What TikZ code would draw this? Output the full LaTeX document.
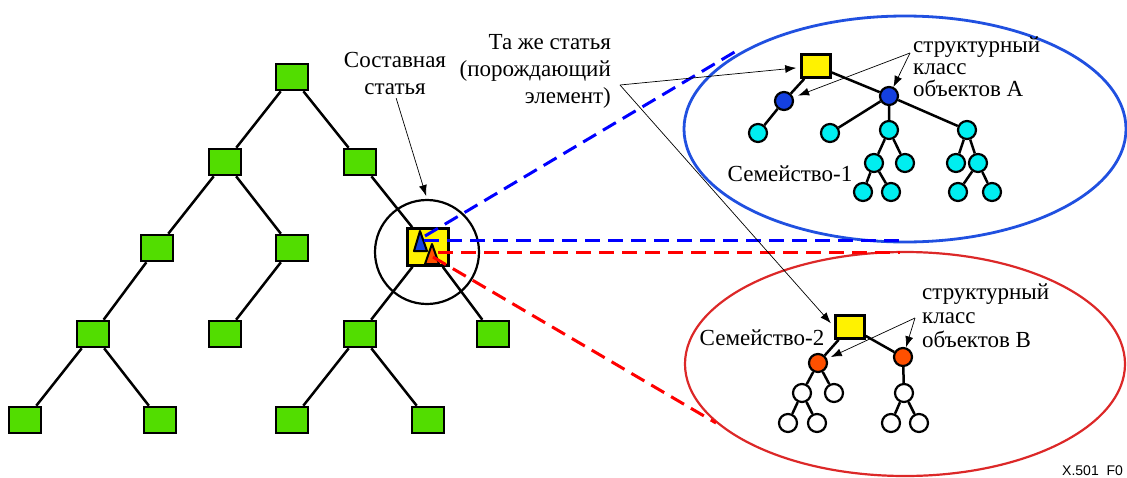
\documentclass[tikz,border=0pt]{standalone}
\usepackage{fontspec}
\setmainfont{Liberation Serif}
\newfontfamily\figsans{Liberation Sans}
\usepackage{xcolor}
\usetikzlibrary{arrows.meta, positioning}

\definecolor{leaf}{HTML}{52DD00}
\definecolor{classA}{HTML}{1440E0}
\definecolor{objA}{HTML}{00EEF0}
\definecolor{classB}{HTML}{FF5000}
\definecolor{ringA}{HTML}{2050E0}
\definecolor{ringB}{HTML}{DC2828}

\begin{document}
\begin{tikzpicture}[x=1pt, y=-1pt,
      GB/.style = {draw, line width=2.6pt, fill=leaf, minimum width=32pt,
                   minimum height=26pt, inner sep=0pt},
      YB/.style = {draw, line width=2.6pt, fill=yellow, minimum width=29pt,
                   minimum height=23pt, inner sep=0pt},
      ND/.style = {circle, draw, line width=2.2pt, minimum size=18pt, inner sep=0pt},
      link/.style = {line width=2.5pt},
      note/.style = {line width=0.7pt, -{Latex[length=11pt, width=8pt]}},
      DL/.style = {line width=3pt, dash pattern=on 15pt off 8pt},
      txt/.style = {inner sep=0pt, font=\fontsize{23}{27}\selectfont} ]

   \useasboundingbox (0,0) rectangle (1127,477);

   \draw[ringA, line width=2.8pt] (905,129) ellipse [x radius=221pt, y radius=113pt];
   \draw[ringB, line width=2.2pt] (905,364) ellipse [x radius=220pt, y radius=112pt];

   % directory tree
   \node (t0)  [GB] at (292,77)  {};
   \node (t1a) [GB] at (225,162) {};
   \node (t1b) [GB] at (360,162) {};
   \node (t2a) [GB] at (157,248) {};
   \node (t2b) [GB] at (292,248) {};
   \node (art) [YB, minimum width=41pt, minimum height=37pt] at (428,247) {};
   \node (t3a) [GB] at (93,334)  {};
   \node (t3b) [GB] at (225,334) {};
   \node (t3c) [GB] at (360,334) {};
   \node (t3d) [GB] at (493,334) {};
   \node (t4a) [GB] at (25,420)  {};
   \node (t4b) [GB] at (160,420) {};
   \node (t4c) [GB] at (292,420) {};
   \node (t4d) [GB] at (428,420) {};
   \draw[link] (t0) -- (t1a)  (t0) -- (t1b)
               (t1a) -- (t2a) (t1a) -- (t2b) (t1b) -- (art)
               (t2a) -- (t3a) (t2b) -- (t3b) (art) -- (t3c) (art) -- (t3d)
               (t3a) -- (t4a) (t3a) -- (t4b) (t3c) -- (t4c) (t3c) -- (t4d);
   \node (zoom) [circle, draw, line width=2.2pt, minimum size=104pt] at (427,252) {};

   \filldraw[line width=2pt, line join=round, fill=classA]
        (420,231) -- (427,251) -- (414,251) -- cycle;
   \filldraw[line width=2pt, line join=round, fill=classB]
        (432,244) -- (439,264) -- (425,264) -- cycle;

   \coordinate (pa) at (425,236);  \coordinate (qa) at (738,50);
   \coordinate (pb) at (424,240);  \coordinate (qb) at (900,240);
   \coordinate (pc) at (438,252);  \coordinate (qc) at (900,252);
   \coordinate (pd) at (433,257);  \coordinate (qd) at (716,423);
   \draw[DL, blue] (pa) -- (qa);
   \draw[DL, blue] (pb) -- (qb);
   \draw[DL, red]  (pc) -- (qc);
   \draw[DL, red]  (pd) -- (qd);

   % family 1
   \node (f1)  [YB] at (816,66) {};
   \node (a1)  [ND, fill=classA] at (784,101) {};
   \node (a2)  [ND, fill=classA] at (889,96)  {};
   \node (c1)  [ND, fill=objA] at (758,133) {};
   \node (c2)  [ND, fill=objA] at (830,133) {};
   \node (c3)  [ND, fill=objA] at (889,130) {};
   \node (c4)  [ND, fill=objA] at (967,130) {};
   \node (c5)  [ND, fill=objA] at (874,163) {};
   \node (c6)  [ND, fill=objA] at (905,163) {};
   \node (c7)  [ND, fill=objA] at (956,163) {};
   \node (c8)  [ND, fill=objA] at (978,163) {};
   \node (c9)  [ND, fill=objA] at (863,192) {};
   \node (c10) [ND, fill=objA] at (891,192) {};
   \node (c11) [ND, fill=objA] at (958,192) {};
   \node (c12) [ND, fill=objA] at (992,192) {};
   \draw[link] (f1) -- (a1) (f1) -- (a2) (a1) -- (c1)
               (a2) -- (c2) (a2) -- (c3) (a2) -- (c4)
               (c3) -- (c5) (c3) -- (c6) (c4) -- (c7) (c4) -- (c8)
               (c5) -- (c9) (c5) -- (c10) (c8) -- (c11) (c8) -- (c12);

   % family 2
   \node (f2)  [YB] at (850,327) {};
   \node (b1)  [ND, fill=classB] at (818,363) {};
   \node (b2)  [ND, fill=classB] at (903,357) {};
   \node (w1)  [ND, fill=white] at (802,393) {};
   \node (w2)  [ND, fill=white] at (834,393) {};
   \node (w3)  [ND, fill=white] at (904,393) {};
   \node (w4)  [ND, fill=white] at (788,423) {};
   \node (w5)  [ND, fill=white] at (817,423) {};
   \node (w6)  [ND, fill=white] at (891,423) {};
   \node (w7)  [ND, fill=white] at (919,423) {};
   \draw[link] (f2) -- (b1) (f2) -- (b2) (b1) -- (w1) (b1) -- (w2) (b2) -- (w3)
               (w1) -- (w4) (w1) -- (w5) (w3) -- (w6) (w3) -- (w7);

   % labels
   \node (cmp)  [txt, align=center] at (395,73) {Составная\\статья};
   \node (same) [txt, align=right, anchor=east] at (611,71)
        {Та же статья\\(порождающий\\элемент)};
   \node (clsA) [txt, align=left, anchor=north west,
                 font=\fontsize{23}{22}\selectfont] at (913,37)
        {структурный\\класс\\объектов A};
   \node (clsB) [txt, align=left, anchor=north west,
                 font=\fontsize{23}{24}\selectfont] at (922,284)
        {структурный\\класс\\объектов B};
   \node (fam1) [txt, anchor=base] at (790,181) {Семейство-1};
   \node (fam2) [txt, anchor=base] at (762,345) {Семейство-2};
   \node (tag)  [inner sep=0pt, anchor=base west, font=\figsans\fontsize{14}{14}\selectfont]
        at (1062,475) {X.501\ \ F0};

   \coordinate (fork) at (620,85);
   \coordinate (ka) at (910,53);
   \coordinate (kb) at (915,318);
   \draw[note, shorten <=4pt, shorten >=3pt] (cmp.south) -- (zoom.north);
   \draw[note, shorten >=4pt] (fork) -- (f1);
   \draw[note, shorten >=5pt] (fork) -- (f2.west);
   \draw[note] (ka) -- (a2);
   \draw[note, shorten >=5pt] (ka) -- (a1);
   \draw[note] (kb) -- (b2);
   \draw[note, shorten >=4pt] (kb) -- (b1);
\end{tikzpicture}
\end{document}
